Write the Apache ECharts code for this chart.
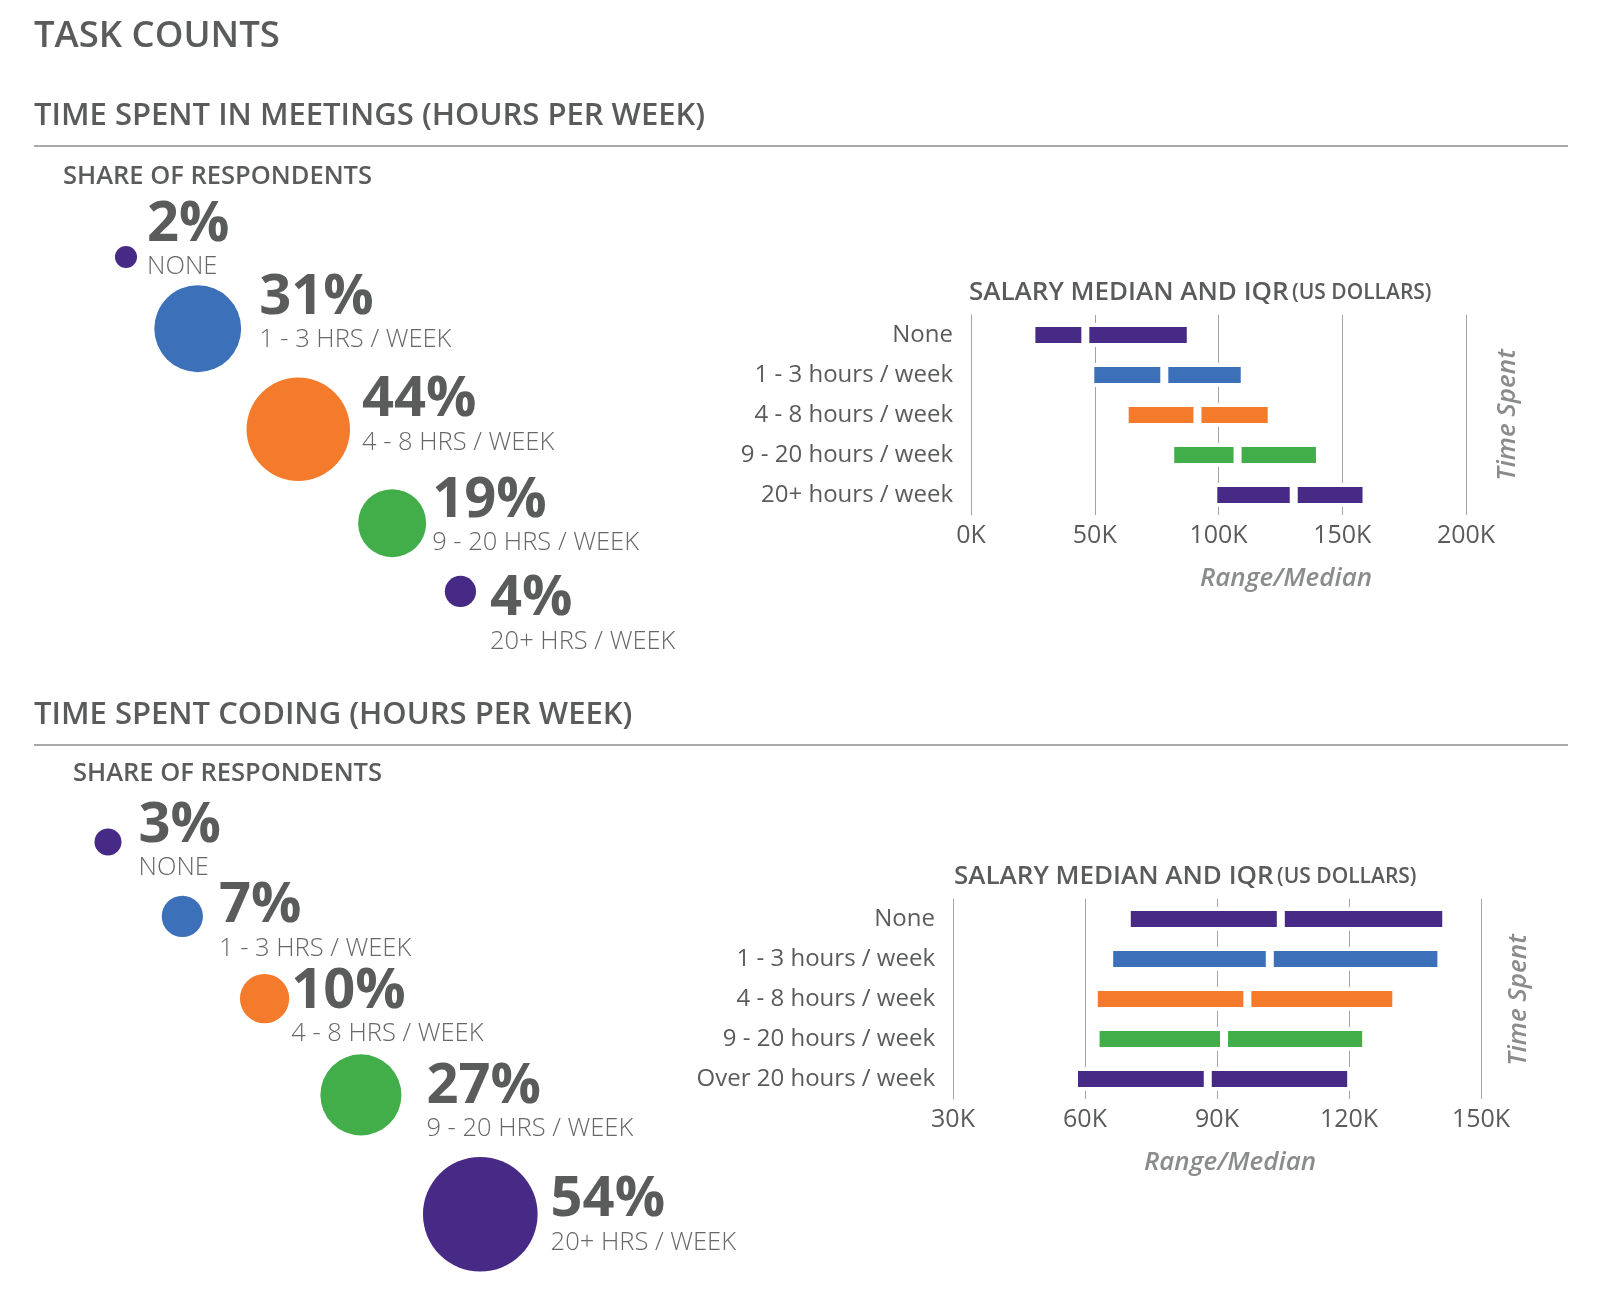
<!DOCTYPE html>
<html><head><meta charset="utf-8">
<script src="https://cdn.jsdelivr.net/npm/echarts@6/dist/echarts.min.js"></script>
<style>html,body{margin:0;padding:0;background:#fff}#c{width:1600px;height:1316px}</style>
</head><body><div id="c"></div>
<script>
// ---------- DATA ----------
const meetingGroups = ['NONE', '1 - 3 HRS / WEEK', '4 - 8 HRS / WEEK', '9 - 20 HRS / WEEK', '20+ HRS / WEEK'];
const meetingShare = [2, 31, 44, 19, 4];
const codingGroups = ['NONE', '1 - 3 HRS / WEEK', '4 - 8 HRS / WEEK', '9 - 20 HRS / WEEK', '20+ HRS / WEEK'];
const codingShare = [3, 7, 10, 27, 54];

const meetingSalaryCats = ['None', '1 - 3 hours / week', '4 - 8 hours / week', '9 - 20 hours / week', '20+ hours / week'];
const meetingQ1 = [24400, 48200, 62100, 80500, 97900];
const meetingMedian = [46200, 78100, 91500, 107700, 130400];
const meetingQ3 = [88800, 110600, 121500, 141000, 159800];
const meetingTicks = [0, 50000, 100000, 150000, 200000];

const codingSalaryCats = ['None', '1 - 3 hours / week', '4 - 8 hours / week', '9 - 20 hours / week', 'Over 20 hours / week'];
const codingQ1 = [69500, 65500, 62000, 62400, 57500];
const codingMedian = [104500, 102000, 96900, 91600, 87900];
const codingQ3 = [142100, 141000, 130750, 123900, 120500];
const codingTicks = [30000, 60000, 90000, 120000, 150000];

// ---------- STYLE ----------
const groupColors = ['#472a85', '#3c71b9', '#f47b2c', '#41ae4a', '#472a85'];
const TXT = '#595c5b';
const SUB = '#656867';
const FONT = '"Open Sans", "Noto Sans", sans-serif';
const RULE = '#a7a9ab';

// bubble radius: area proportional to share
const R = v => 7.8 * Math.sqrt(v);
// bubbles laid out along a 45° diagonal, each separated by a fixed edge gap
function diagonal(shares, x0, y0, gap) {
  let s = 0;
  return shares.map((v, i) => {
    if (i > 0) s += R(shares[i - 1]) + R(v) + gap;
    return [x0 + s / Math.SQRT2, y0 + s / Math.SQRT2];
  });
}
function bubbleSeries(shares, groups, start, gap, nudges) {
  const pos = diagonal(shares, start[0], start[1], gap);
  return {
    type: 'scatter', xAxisIndex: 0, yAxisIndex: 0, silent: true,
    data: shares.map((v, i) => ({
      value: [pos[i][0], pos[i][1], v],
      symbolSize: 2 * R(v),
      itemStyle: { color: groupColors[i], opacity: 1 },
      label: {
        show: true, position: 'right', distance: nudges[i][0], offset: [0, nudges[i][1]],
        formatter: '{p|' + v + '%}\n{s|' + groups[i] + '}',
        rich: {
          p: { fontFamily: FONT, fontSize: 56, fontWeight: 700, color: TXT, lineHeight: 48 },
          s: { fontFamily: FONT, fontSize: 25.5, fontWeight: 300, color: SUB, lineHeight: 36 }
        }
      }
    }))
  };
}

function rangeSeries(q1, med, q3, xi, stack) {
  const seg = (vals) => vals.map((v, i) => ({ value: v, itemStyle: { color: groupColors[i] } }));
  const common = { type: 'bar', stack, xAxisIndex: xi, yAxisIndex: xi, barWidth: 24, silent: true,
    itemStyle: { borderColor: '#fff', borderWidth: 4 } };
  return [
    Object.assign({}, common, { data: q1, itemStyle: { color: 'transparent', borderWidth: 0 } }),
    Object.assign({}, common, { data: seg(med.map((m, i) => m - q1[i])) }),
    Object.assign({}, common, { data: seg(q3.map((q, i) => q - med[i])) })
  ];
}

function valueAxis(ticks, gi) {
  return {
    type: 'value', gridIndex: gi, min: ticks[0], max: ticks[ticks.length - 1],
    interval: ticks[1] - ticks[0],
    axisLine: { show: false }, axisTick: { show: false },
    splitLine: { show: true, lineStyle: { color: '#a3a3a3', width: 1 } },
    axisLabel: { color: TXT, fontFamily: FONT, fontSize: 25, margin: 8,
      formatter: v => (v / 1000) + 'K' }
  };
}
function catAxis(cats, gi) {
  return {
    type: 'category', gridIndex: gi, data: cats, inverse: true,
    axisLine: { show: true, lineStyle: { color: '#a3a3a3' } }, axisTick: { show: false },
    axisLabel: { color: TXT, fontFamily: FONT, fontSize: 24, margin: 18 }
  };
}

function text(t, x, y, size, weight, color, extra) {
  return { type: 'text', x, y, silent: true,
    style: Object.assign({ text: t, fill: color, font: weight + ' ' + size + 'px ' + FONT,
      align: 'left', verticalAlign: 'middle' }, extra || {}) };
}
function rule(y) {
  return { type: 'line', silent: true, shape: { x1: 34, y1: y, x2: 1568, y2: y },
    style: { stroke: RULE, lineWidth: 2 } };
}
function salaryTitle(x, y) {
  return { type: 'text', x, y, silent: true,
    style: { text: '{a|SALARY MEDIAN AND IQR} {b|(US DOLLARS)}', verticalAlign: 'middle', align: 'left',
      rich: { a: { fontFamily: FONT, fontSize: 26, fontWeight: 600, fill: TXT, color: TXT },
              b: { fontFamily: FONT, fontSize: 21, fontWeight: 600, fill: TXT, color: TXT } } } };
}
function italic(t, x, y, rot) {
  return { type: 'text', x, y, rotation: rot || 0, silent: true,
    style: { text: t, fill: '#8a8c8c', font: 'italic 600 26px ' + FONT, align: 'center', verticalAlign: 'middle' } };
}

const option = {
  animation: false,
  backgroundColor: '#fff',
  grid: [
    { left: 0, top: 0, width: 1600, height: 1316 },
    { left: 971, top: 315, width: 495, height: 200 },
    { left: 953, top: 899, width: 528, height: 200 }
  ],
  xAxis: [
    { type: 'value', gridIndex: 0, min: 0, max: 1600, show: false },
    valueAxis(meetingTicks, 1),
    valueAxis(codingTicks, 2)
  ],
  yAxis: [
    { type: 'value', gridIndex: 0, min: 0, max: 1316, inverse: true, show: false },
    catAxis(meetingSalaryCats, 1),
    catAxis(codingSalaryCats, 2)
  ],
  graphic: [
    text('TASK COUNTS', 34, 37, 36.5, 600, TXT),
    text('TIME SPENT IN MEETINGS (HOURS PER WEEK)', 34, 116, 31, 600, TXT),
    rule(146),
    text('SHARE OF RESPONDENTS', 63, 177, 25.5, 600, TXT),
    text('TIME SPENT CODING (HOURS PER WEEK)', 34, 715, 31, 600, TXT),
    rule(745),
    text('SHARE OF RESPONDENTS', 73, 774, 25.5, 600, TXT),
    salaryTitle(969, 293),
    salaryTitle(954, 877),
    italic('Range/Median', 1286, 579),
    italic('Range/Median', 1230, 1163),
    italic('Time Spent', 1508, 415, Math.PI / 2),
    italic('Time Spent', 1519, 1000, Math.PI / 2)
  ],
  series: [
    bubbleSeries(meetingShare, meetingGroups, [126, 257], 47,
      [[10, -14], [18, -13], [12, -11], [6, -4], [14, 26]]),
    bubbleSeries(codingShare, codingGroups, [108, 842], 71,
      [[17, 2], [16, 8], [2, 11], [25, 10], [13, 4]]),
    ...rangeSeries(meetingQ1, meetingMedian, meetingQ3, 1, 'm'),
    ...rangeSeries(codingQ1, codingMedian, codingQ3, 2, 'c')
  ]
};
const chart = echarts.init(document.getElementById('c'), null, { renderer: 'canvas' });
chart.setOption(option);
</script></body></html>
